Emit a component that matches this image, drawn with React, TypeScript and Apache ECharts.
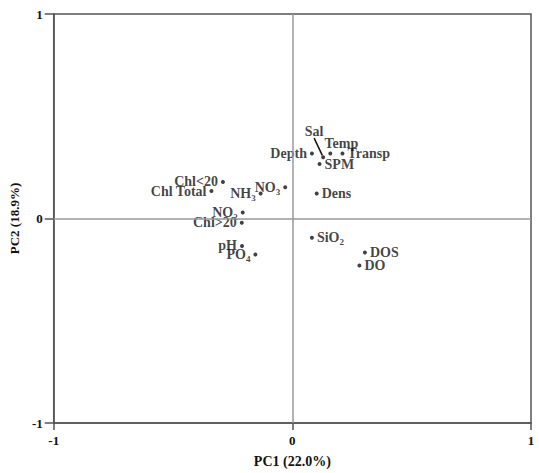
import React, { useEffect, useRef } from "react";
import * as echarts from "echarts";

// Variable loadings on PC1 / PC2
const variables = ["Sal", "Temp", "Transp", "Depth", "SPM", "Dens", "NO3", "NH3", "Chl<20", "Chl Total", "NO2", "Chl>20", "pH", "PO4", "SiO2", "DOS", "DO"];
const pc1 = [0.129, 0.159, 0.21, 0.082, 0.114, 0.102, -0.03, -0.133, -0.291, -0.339, -0.208, -0.212, -0.211, -0.155, 0.082, 0.304, 0.281];
const pc2 = [0.3, 0.318, 0.318, 0.318, 0.266, 0.122, 0.153, 0.122, 0.179, 0.134, 0.029, -0.021, -0.134, -0.176, -0.094, -0.166, -0.23];
const displayNames: Record<string, string> = {
  NO3: "NO{s|3}",
  NH3: "NH{s|3}",
  NO2: "NO{s|2}",
  PO4: "PO{s|4}",
  SiO2: "SiO{s|2}",
};
const axisTicks = [-1, 0, 1];
const xAxisName = "PC1 (22.0%)";
const yAxisName = "PC2 (18.9%)";

const rightLabelled = ["Transp", "SPM", "Dens", "SiO2", "DOS", "DO"];
const movedLabels: Record<string, { dx: number; dy: number }> = {
  Sal: { dx: -9, dy: -26 },
  Temp: { dx: 11, dy: -10 },
};

const FONT = "'Liberation Serif', 'Times New Roman', serif";

export default function App() {
  const ref = useRef<HTMLDivElement>(null);
  useEffect(() => {
    if (!ref.current) return;
    const chart = echarts.init(ref.current, null, { renderer: "svg" });
    const baseLabel = {
      show: true,
      color: "#111",
      fontFamily: FONT,
      fontWeight: "bold",
      fontSize: 14,
      formatter: (p: any) => displayNames[p.name] ?? p.name,
      rich: {
        s: { fontSize: 9, fontWeight: "bold", fontFamily: FONT, color: "#111", padding: [9, 0, 0, 0] },
      },
    };
    const data = variables.map((name, i) => {
      let label: any;
      if (movedLabels[name]) {
        label = { position: "inside" };
      } else if (rightLabelled.includes(name)) {
        label = { position: "right", distance: 3 };
      } else {
        label = { position: "left", distance: 3 };
      }
      return {
        name,
        value: [pc1[i], pc2[i]],
        label,
        labelLine: name === "Sal" ? { show: true, lineStyle: { color: "#111", width: 1.5 } } : { show: false },
      };
    });
    chart.setOption({
      animation: false,
      backgroundColor: "#fff",
      grid: { left: 53, right: 8, top: 14, bottom: 43, show: true, borderColor: "#555", borderWidth: 1.5 },
      xAxis: {
        type: "value",
        min: axisTicks[0],
        max: axisTicks[axisTicks.length - 1],
        interval: 1,
        name: xAxisName,
        nameLocation: "middle",
        nameGap: 31,
        nameTextStyle: { fontFamily: FONT, fontWeight: "bold", fontSize: 14, color: "#111" },
        axisLine: { onZero: false, lineStyle: { color: "#555", width: 1.5 } },
        axisTick: { show: true, length: 7, lineStyle: { color: "#555", width: 1.5 } },
        axisLabel: { fontFamily: FONT, fontWeight: "bold", fontSize: 13, color: "#111", margin: 11 },
        splitLine: { show: false },
      },
      yAxis: {
        type: "value",
        min: axisTicks[0],
        max: axisTicks[axisTicks.length - 1],
        interval: 1,
        name: yAxisName,
        nameLocation: "middle",
        nameGap: 30,
        nameRotate: 90,
        nameTextStyle: { fontFamily: FONT, fontWeight: "bold", fontSize: 13, color: "#111" },
        axisLine: { onZero: false, lineStyle: { color: "#555", width: 1.5 } },
        axisTick: { show: true, length: 9, lineStyle: { color: "#555", width: 1.5 } },
        axisLabel: { fontFamily: FONT, fontWeight: "bold", fontSize: 13, color: "#111", margin: 11 },
        splitLine: { show: false },
      },
      series: [
        {
          type: "scatter",
          symbol: "circle",
          symbolSize: 4,
          itemStyle: { color: "#111" },
          label: baseLabel,
          labelLayout: (params: any) => movedLabels[variables[params.dataIndex]] ?? {},
          labelLine: { show: false, lineStyle: { color: "#111", width: 1.5 } },
          data,
          markLine: {
            silent: true,
            symbol: "none",
            label: { show: false },
            lineStyle: { color: "#999", width: 1.5, type: "solid" },
            data: [{ xAxis: 0 }, { yAxis: 0 }],
          },
          z: 3,
        },
      ],
    });
    return () => chart.dispose();
  }, []);
  return <div ref={ref} style={{ position: "fixed", left: 0, top: 0, width: 539, height: 473 }} />;
}
